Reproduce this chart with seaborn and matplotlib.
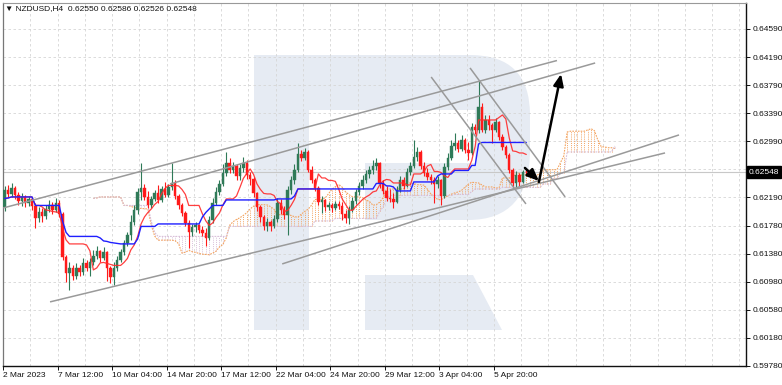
import numpy as np
import pandas as pd
import matplotlib
matplotlib.use("Agg")
import matplotlib.pyplot as plt
import matplotlib.transforms as mtransforms
from matplotlib.patches import PathPatch, Polygon
from matplotlib.path import Path
import seaborn as sns

sns.set_theme(style="white")
plt.rcParams['font.family'] = ['Liberation Sans', 'DejaVu Sans']

# ---------------- data (NZDUSD H4) ----------------
first_open = 0.62050
close = [
    0.62293, 0.62236, 0.62321, 0.62221, 0.62136, 0.62193, 0.62107, 0.62164, 0.62064, 0.61893,
    0.61979, 0.61922, 0.62022, 0.62079, 0.62007, 0.62107, 0.61950, 0.61337, 0.61108, 0.61180,
    0.61066, 0.61180, 0.61123, 0.61251, 0.61180, 0.61265, 0.61351, 0.61422, 0.61322, 0.61408,
    0.61180, 0.61051, 0.61180, 0.61294, 0.61408, 0.61536, 0.61651, 0.61836, 0.62007, 0.62264,
    0.62321, 0.62193, 0.62079, 0.62164, 0.62250, 0.62150, 0.62307, 0.62221, 0.62336, 0.62393,
    0.62207, 0.62079, 0.61965, 0.61822, 0.61693, 0.61765, 0.61793, 0.61722, 0.61679, 0.61608,
    0.61865, 0.62107, 0.62264, 0.62378, 0.62535, 0.62678, 0.62578, 0.62635, 0.62493, 0.62607,
    0.62678, 0.62507, 0.62450, 0.62250, 0.62050, 0.61907, 0.61779, 0.61836, 0.61779, 0.61879,
    0.62107, 0.62007, 0.61936, 0.62293, 0.62435, 0.62578, 0.62806, 0.62749, 0.62835, 0.62578,
    0.62435, 0.62321, 0.62121, 0.62150, 0.62050, 0.62079, 0.62036, 0.62093, 0.62064, 0.61950,
    0.61893, 0.62007, 0.62136, 0.62264, 0.62350, 0.62435, 0.62521, 0.62578, 0.62635, 0.62678,
    0.62393, 0.62278, 0.62179, 0.62164, 0.62121, 0.62293, 0.62435, 0.62350, 0.62550, 0.62635,
    0.62764, 0.62835, 0.62635, 0.62535, 0.62478, 0.62435, 0.62378, 0.62435, 0.62207, 0.62621,
    0.62749, 0.62921, 0.62963, 0.62878, 0.63006, 0.62864, 0.62821, 0.63192, 0.63149, 0.63477,
    0.63149, 0.63292, 0.63220, 0.63149, 0.63263, 0.63049, 0.62906, 0.62792, 0.62578, 0.62393,
    0.62507, 0.62407, 0.62550, 0.62548]
high = [
    0.62350, 0.62364, 0.62393, 0.62350, 0.62264, 0.62250, 0.62221, 0.62207, 0.62193, 0.62107,
    0.62050, 0.62036, 0.62079, 0.62150, 0.62121, 0.62179, 0.62150, 0.61979, 0.61365, 0.61265,
    0.61222, 0.61251, 0.61222, 0.61322, 0.61294, 0.61322, 0.61437, 0.61494, 0.61437, 0.61479,
    0.61422, 0.61208, 0.61265, 0.61351, 0.61451, 0.61579, 0.61693, 0.61936, 0.62079, 0.62321,
    0.62678, 0.62378, 0.62278, 0.62207, 0.62293, 0.62364, 0.62350, 0.62407, 0.62378, 0.62678,
    0.62435, 0.62236, 0.62107, 0.61993, 0.61865, 0.61808, 0.61836, 0.61808, 0.61779, 0.61750,
    0.61922, 0.62179, 0.62336, 0.62435, 0.62664, 0.62835, 0.62749, 0.62692, 0.62664, 0.62664,
    0.62764, 0.62721, 0.62550, 0.62478, 0.62264, 0.62079, 0.61936, 0.61893, 0.61865, 0.61936,
    0.62179, 0.62164, 0.62064, 0.62350, 0.62493, 0.62664, 0.62963, 0.62864, 0.62892, 0.62864,
    0.62635, 0.62464, 0.62350, 0.62207, 0.62164, 0.62121, 0.62107, 0.62136, 0.62136, 0.62121,
    0.62007, 0.62064, 0.62193, 0.62307, 0.62407, 0.62507, 0.62578, 0.62635, 0.62721, 0.62749,
    0.62692, 0.62435, 0.62350, 0.62307, 0.62250, 0.62350, 0.62493, 0.62478, 0.62607, 0.62692,
    0.63006, 0.62906, 0.62864, 0.62692, 0.62607, 0.62521, 0.62478, 0.62493, 0.62450, 0.62678,
    0.62821, 0.63006, 0.63106, 0.63006, 0.63078, 0.63035, 0.62978, 0.63249, 0.63235, 0.63862,
    0.63534, 0.63363, 0.63363, 0.63249, 0.63320, 0.63277, 0.63092, 0.62935, 0.62821, 0.62607,
    0.62564, 0.62535, 0.62578, 0.62586]
low = [
    0.61993, 0.62193, 0.62193, 0.62164, 0.62079, 0.62064, 0.62050, 0.62064, 0.62007, 0.61750,
    0.61836, 0.61836, 0.61879, 0.61979, 0.61950, 0.61979, 0.61907, 0.61294, 0.60980, 0.60866,
    0.61008, 0.61023, 0.61066, 0.61080, 0.61137, 0.61066, 0.61222, 0.61308, 0.61265, 0.61294,
    0.60994, 0.60966, 0.60937, 0.61137, 0.61265, 0.61365, 0.61494, 0.61579, 0.61793, 0.61950,
    0.62150, 0.62150, 0.62036, 0.62036, 0.62136, 0.62107, 0.62121, 0.62193, 0.62193, 0.62293,
    0.62164, 0.62022, 0.61922, 0.61779, 0.61465, 0.61636, 0.61693, 0.61679, 0.61636, 0.61494,
    0.61579, 0.61822, 0.62079, 0.62221, 0.62350, 0.62493, 0.62535, 0.62535, 0.62435, 0.62435,
    0.62550, 0.62450, 0.62364, 0.62193, 0.61993, 0.61836, 0.61722, 0.61708, 0.61708, 0.61750,
    0.61836, 0.61950, 0.61879, 0.61651, 0.62236, 0.62378, 0.62550, 0.62707, 0.62721, 0.62550,
    0.62393, 0.62278, 0.62079, 0.61965, 0.61993, 0.62007, 0.61979, 0.62007, 0.62022, 0.61865,
    0.61822, 0.61808, 0.61979, 0.62093, 0.62221, 0.62307, 0.62393, 0.62464, 0.62521, 0.62578,
    0.62321, 0.62236, 0.62136, 0.62121, 0.62036, 0.62107, 0.62264, 0.62307, 0.62336, 0.62507,
    0.62607, 0.62707, 0.62592, 0.62493, 0.62435, 0.62378, 0.62107, 0.62321, 0.62079, 0.62179,
    0.62578, 0.62721, 0.62864, 0.62835, 0.62849, 0.62821, 0.62721, 0.62792, 0.63092, 0.63106,
    0.63120, 0.63106, 0.63149, 0.62963, 0.63120, 0.63006, 0.62864, 0.62749, 0.62535, 0.62336,
    0.62321, 0.62350, 0.62393, 0.62526]

date_labels = ["2 Mar 2023", "7 Mar 12:00", "10 Mar 04:00", "14 Mar 20:00", "17 Mar 12:00",
               "22 Mar 04:00", "24 Mar 20:00", "29 Mar 12:00", "3 Apr 04:00", "5 Apr 20:00"]
date_label_bars = [0, 16, 32, 48, 64, 80, 96, 112, 128, 144]
price_ticks = [0.64590, 0.64190, 0.63790, 0.63390, 0.62990, 0.62590, 0.62190,
               0.61780, 0.61380, 0.60980, 0.60580, 0.60180, 0.59780]
price_tick_labels = ["0.64590", "0.64190", "0.63790", "0.63390", "0.62990", "", "0.62190",
                     "0.61780", "0.61380", "0.60980", "0.60580", "0.60180", "0.59780"]
last_price = 0.62548
header = "\u25bc NZDUSD,H4  0.62550 0.62586 0.62526 0.62548"

# trend lines: (bar, price) endpoints
trend_x = [[-0.4, 162.0], [48.5, 173.2], [13.3, 193.7], [81.4, 197.8], [125.1, 152.9], [136.5, 164.4]]
trend_y = [[0.62036, 0.64140], [0.62378, 0.64105], [0.60695, 0.62821], [0.61237, 0.63078],
           [0.63905, 0.62093], [0.64034, 0.62193]]
arrow_x = [[152.6, 156.7], [156.7, 163.2]]
arrow_y = [[0.62607, 0.62421], [0.62407, 0.63948]]

# ---------------- indicators (Ichimoku 9/26/52) ----------------
n = len(close)
idx = np.arange(n)
c = np.array(close)
o = np.r_[first_open, c[:-1]]
h = np.maximum(np.array(high), np.maximum(o, c))
l = np.minimum(np.array(low), np.minimum(o, c))
df = pd.DataFrame({"bar": idx, "open": o, "high": h, "low": l, "close": c})
df["tenkan"] = (df.high.rolling(9, min_periods=1).max() + df.low.rolling(9, min_periods=1).min()) / 2
df["kijun"] = (df.high.rolling(26, min_periods=1).max() + df.low.rolling(26, min_periods=1).min()) / 2
spanA = ((df.tenkan + df.kijun) / 2).values
spanB = ((df.high.rolling(52, min_periods=1).max() + df.low.rolling(52, min_periods=1).min()) / 2).values
cloud = pd.DataFrame({"bar": idx + 26, "a": spanA, "b": spanB})

# ---------------- figure ----------------
W, H = 782, 385
fig = plt.figure(figsize=(W / 100, H / 100), dpi=100)
fig.patch.set_facecolor("white")
ax = fig.add_axes([3 / W, 19 / H, 743 / W, 363 / H])
ax.set_facecolor("white")
ax.set_xlim(-0.44, 217.45)
ax.set_ylim(0.59781, 0.64961)

# watermark logo (pixel geometry -> axes fraction)
def P(px, py):
    return ((px - 3) / 743, (366 - py) / 363)

wm = "#e6ebf3"
ax.add_patch(Polygon([P(254, 55), P(309, 55), P(309, 330), P(254, 330)], closed=True,
                     transform=ax.transAxes, facecolor=wm, edgecolor="none", zorder=0))
verts = [P(309, 55), P(470, 55), P(530, 55), P(530, 115), P(530, 150), P(530, 220), P(468, 220),
         P(365, 220), P(365, 163), P(475, 163), P(475, 110), P(309, 110), P(309, 55)]
codes = [Path.MOVETO, Path.LINETO, Path.CURVE3, Path.CURVE3, Path.LINETO, Path.CURVE3, Path.CURVE3,
         Path.LINETO, Path.LINETO, Path.LINETO, Path.LINETO, Path.LINETO, Path.CLOSEPOLY]
ax.add_patch(PathPatch(Path(verts, codes), transform=ax.transAxes, facecolor=wm,
                       edgecolor="none", zorder=0))
ax.add_patch(Polygon([P(365, 275), P(473, 275), P(502, 330), P(365, 330)], closed=True,
                     transform=ax.transAxes, facecolor=wm, edgecolor="none", zorder=0))

# ticks & grid
major_x = [b - 0.5 for b in date_label_bars]
ax.set_xticks(major_x)
ax.set_xticklabels(date_labels)
ax.set_xticks(np.arange(0, 218, 8) - 0.5, minor=True)
ax.yaxis.tick_right()
ax.set_yticks(price_ticks)
ax.set_yticklabels(price_tick_labels)
ax.grid(which="both", axis="x", color="#d6d6d6", linestyle=(0, (3, 3)), linewidth=0.6, zorder=0.5)
ax.grid(which="major", axis="y", color="#d6d6d6", linestyle=(0, (3, 3)), linewidth=0.6, zorder=0.5)
ax.set_axisbelow(True)
ax.tick_params(axis="x", which="major", length=3, width=0.7, pad=1.5, labelsize=6, colors="#111111",
               bottom=True)
ax.tick_params(axis="x", which="minor", length=0)
ax.tick_params(axis="y", which="major", length=3, width=0.7, pad=1.5, labelsize=6, colors="#111111",
               right=True, left=False)
for lab in ax.get_xticklabels():
    lab.set_horizontalalignment("left")
for side, col, lw in [("left", "#777777", 0.9), ("top", "#999999", 0.8),
                      ("right", "#111111", 1.0), ("bottom", "#111111", 1.0)]:
    ax.spines[side].set_visible(True)
    ax.spines[side].set_color(col)
    ax.spines[side].set_linewidth(lw)

# bid line
ax.axhline(last_price, color="#c8c8c8", linewidth=0.8, zorder=1)

# cloud hatch
bull = cloud.a >= cloud.b
ax.vlines(cloud.bar[bull], cloud.b[bull], cloud.a[bull], colors="#f4a460",
          linestyles=(0, (1, 1.2)), linewidth=0.7, zorder=1.2)
ax.vlines(cloud.bar[~bull], cloud.a[~bull], cloud.b[~bull], colors="#d8bfd8",
          linestyles=(0, (1, 1.2)), linewidth=0.7, zorder=1.2)
sns.lineplot(data=cloud, x="bar", y="a", ax=ax, color="#f4a460", linestyle=(0, (1.5, 1)),
             linewidth=0.8, estimator=None, sort=False, zorder=1.3)
sns.lineplot(data=cloud, x="bar", y="b", ax=ax, color="#d8bfd8", linestyle=(0, (1.5, 1)),
             linewidth=0.8, estimator=None, sort=False, zorder=1.3)

# candles
up = df.close >= df.open
green, red = "#2f7a58", "#ff1a1a"
col = np.where(up, green, red)
ax.vlines(df.bar, df.low, df.high, colors=col, linewidth=0.8, zorder=3)
body = (df.close - df.open).values
body = np.where(np.abs(body) < 0.00004, np.where(body >= 0, 0.00004, -0.00004), body)
ax.bar(df.bar, body, bottom=df.open, width=0.72, color=col, edgecolor=col, linewidth=0.3, zorder=3.1)

# tenkan / kijun
sns.lineplot(data=df, x="bar", y="tenkan", ax=ax, color="#ff2a2a", linewidth=0.9, alpha=0.9,
             estimator=None, sort=False, zorder=4)
sns.lineplot(data=df, x="bar", y="kijun", ax=ax, color="#1f1fff", linewidth=1.0,
             estimator=None, sort=False, zorder=4)

# trend lines
for xs, ys in zip(trend_x, trend_y):
    ax.plot(xs, ys, color="#9a9a9a", linewidth=1.1, zorder=4.5, solid_capstyle="butt")

# arrows
for xs, ys in zip(arrow_x, arrow_y):
    ax.annotate("", xy=(xs[1], ys[1]), xytext=(xs[0], ys[0]),
                arrowprops=dict(arrowstyle="-|>,head_length=0.7,head_width=0.3", color="black",
                                lw=1.8, shrinkA=0, shrinkB=0, mutation_scale=10), zorder=6)

ax.set_xlabel("")
ax.set_ylabel("")

# current price box
trans = mtransforms.blended_transform_factory(ax.transAxes, ax.transData)
ax.text(1.004, last_price, f"{last_price:.5f}", transform=trans, color="white", fontsize=6,
        va="center", ha="left", clip_on=False, zorder=10,
        bbox=dict(facecolor="black", edgecolor="black", boxstyle="square,pad=0.25"))

# header
fig.text(5 / W, 1 - 9 / H, header, fontsize=6, color="#111111", va="center", ha="left")

fig.savefig("out.png", dpi=100, facecolor="white")
